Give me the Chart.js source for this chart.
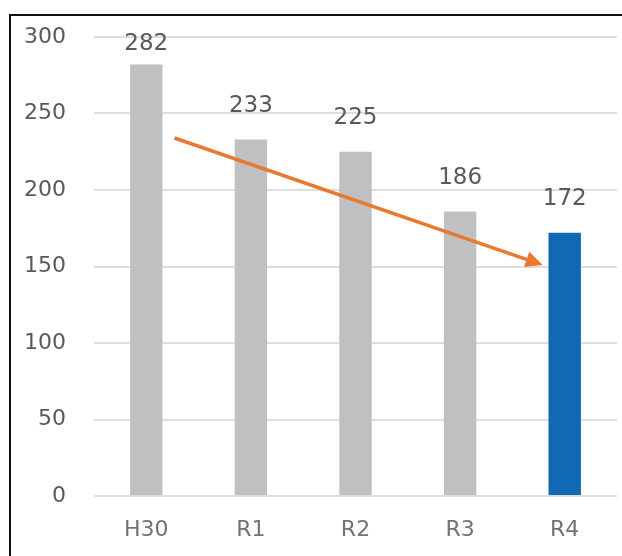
<!DOCTYPE html>
<html>
<head>
<meta charset="utf-8">
<script src="https://cdn.jsdelivr.net/npm/chart.js@4/dist/chart.umd.min.js"></script>
<style>
  html, body { margin: 0; padding: 0; background: #fff; }
  #wrap { position: relative; width: 622px; height: 556px; overflow: hidden; }
  #frame { position: absolute; left: 9px; top: 14px; width: 700px; height: 700px;
           border-left: 2px solid #111; border-top: 2px solid #111; }
  canvas { position: absolute; left: 0; top: 0; }
</style>
</head>
<body>
<div id="wrap">
  <div id="frame"></div>
  <canvas id="chart" width="622" height="556"></canvas>
</div>
<script>
const years = ['H30', 'R1', 'R2', 'R3', 'R4'];
const counts = [282, 233, 225, 186, 172];
const barColors = ['#BFC0C2', '#BFC0C2', '#BFC0C2', '#BFC0C2', '#1168B3'];
const yTicks = [0, 50, 100, 150, 200, 250, 300];

// trend arrow ends, in category index / value units
const arrowFrom = [0.27, 234];
const arrowTo = [3.79, 151];

const FONT = '"DejaVu Sans", Verdana, sans-serif';

// value labels above each bar, kept inside the plot top
const barLabels = {
  id: 'barLabels',
  afterDatasetsDraw(chart) {
    const ctx = chart.ctx;
    const meta = chart.getDatasetMeta(0);
    const minBase = chart.chartArea.top + 13;
    ctx.save();
    ctx.font = '23px ' + FONT;
    ctx.fillStyle = '#595959';
    ctx.textAlign = 'center';
    ctx.textBaseline = 'alphabetic';
    meta.data.forEach((bar, i) => {
      ctx.fillText(String(counts[i]), bar.x, Math.max(bar.y - 27.5, minBase));
    });
    ctx.restore();
  }
};

// orange trend arrow
const trendArrow = {
  id: 'trendArrow',
  afterDatasetsDraw(chart) {
    const { x, y } = chart.scales;
    const x1 = x.getPixelForValue(arrowFrom[0]), y1 = y.getPixelForValue(arrowFrom[1]);
    const x2 = x.getPixelForValue(arrowTo[0]), y2 = y.getPixelForValue(arrowTo[1]);
    const ang = Math.atan2(y2 - y1, x2 - x1);
    const head = 17, half = 8;
    const bx = x2 - Math.cos(ang) * head, by = y2 - Math.sin(ang) * head;
    const ctx = chart.ctx;
    ctx.save();
    ctx.strokeStyle = '#E8792F';
    ctx.fillStyle = '#E8792F';
    ctx.lineWidth = 3.5;
    ctx.beginPath();
    ctx.moveTo(x1, y1);
    ctx.lineTo(bx + Math.cos(ang) * 2, by + Math.sin(ang) * 2);
    ctx.stroke();
    ctx.beginPath();
    ctx.moveTo(x2, y2);
    ctx.lineTo(bx + Math.sin(ang) * half, by - Math.cos(ang) * half);
    ctx.lineTo(bx - Math.sin(ang) * half, by + Math.cos(ang) * half);
    ctx.closePath();
    ctx.fill();
    ctx.restore();
  }
};

new Chart(document.getElementById('chart'), {
  type: 'bar',
  data: {
    labels: years,
    datasets: [{
      data: counts,
      backgroundColor: barColors,
      borderWidth: 0,
      barPercentage: 0.62,
      categoryPercentage: 0.5
    }]
  },
  options: {
    responsive: false,
    animation: false,
    layout: { padding: { left: 0, right: 5, top: 37, bottom: 0 } },
    plugins: { legend: { display: false }, tooltip: { enabled: false } },
    scales: {
      x: {
        grid: { display: false, drawTicks: false },
        border: { display: false },
        ticks: { color: '#737373', font: { family: FONT, size: 22 }, padding: 21 },
        afterFit(scale) { scale.height = 60; }
      },
      y: {
        min: 0,
        max: 300,
        afterBuildTicks(scale) { scale.ticks = yTicks.map(v => ({ value: v })); },
        grid: { color: '#DEDEDE', lineWidth: 2, drawTicks: false },
        border: { display: false },
        ticks: { color: '#595959', font: { family: FONT, size: 22 }, padding: 28 },
        afterFit(scale) {
          scale.width = 94;
          scale.paddingTop = 0;
          scale.paddingBottom = 0;
        }
      }
    }
  },
  plugins: [barLabels, trendArrow]
});
</script>
</body>
</html>
